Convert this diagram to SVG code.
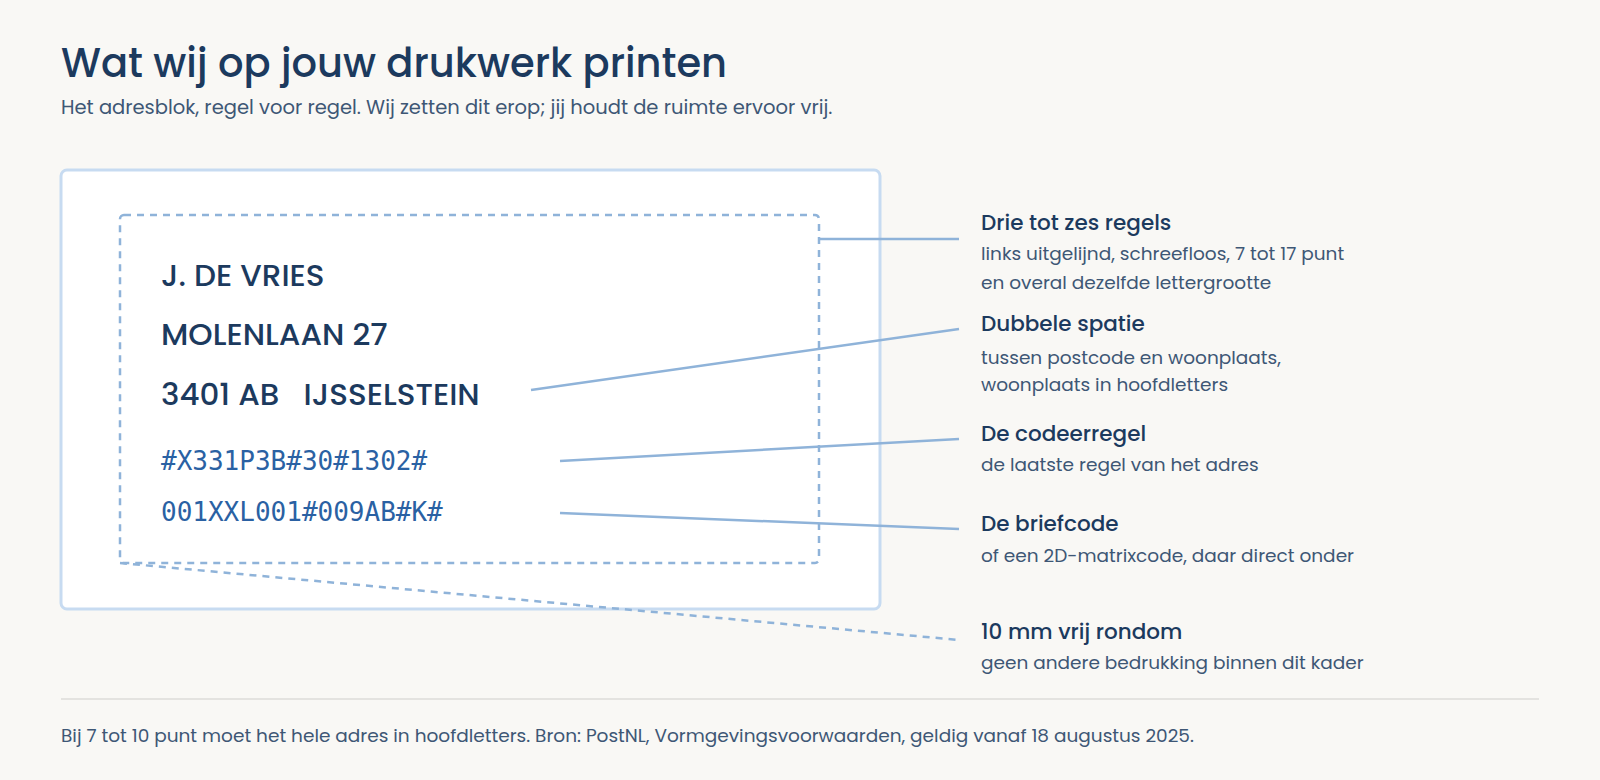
<svg xmlns="http://www.w3.org/2000/svg" width="1600" height="780" viewBox="0 0 1600 780">
<style>
.t{font-family:Poppins,"Noto Sans","Liberation Sans",sans-serif;fill:#1c3a5e}
.h{font-size:21.5px;font-weight:500}
.s{font-size:18.5px;fill:#3e5775}
.a{font-size:31px;font-weight:500}
.m{font-family:"DejaVu Sans Mono","Liberation Mono",monospace;font-size:26px;fill:#2a61a3}
.ln{stroke:#8fb3d9;stroke-width:2.5;fill:none}
</style>
<rect width="1600" height="780" fill="#f9f8f5"/>
<text class="t" x="61" y="77" font-size="40" font-weight="500">Wat wij op jouw drukwerk printen</text>
<text class="t s" x="61" y="114" style="font-size:19.5px">Het adresblok, regel voor regel. Wij zetten dit erop; jij houdt de ruimte ervoor vrij.</text>
<g id="card">
<rect x="61" y="170" width="819" height="439" rx="6" fill="#fff" stroke="#c7dbf1" stroke-width="3"/>
<rect x="120" y="215" width="699" height="348" rx="4" fill="none" stroke="#8fb3d9" stroke-width="2.5" stroke-dasharray="7 6"/>
<text class="t a" x="161" y="286">J. DE VRIES</text>
<text class="t a" x="161" y="345">MOLENLAAN 27</text>
<text class="t a" x="161" y="405" xml:space="preserve">3401 AB   IJSSELSTEIN</text>
<text class="m" x="161" y="470">#X331P3B#30#1302#</text>
<text class="m" x="161" y="521">001XXL001#009AB#K#</text>
</g>
<g id="connectors">
<line class="ln" x1="819" y1="239" x2="959" y2="239"/>
<line class="ln" x1="531" y1="390" x2="959" y2="329"/>
<line class="ln" x1="560" y1="461" x2="959" y2="439"/>
<line class="ln" x1="560" y1="513" x2="959" y2="529"/>
<line class="ln" x1="120" y1="563" x2="959" y2="640" stroke-dasharray="7 6"/>
</g>
<g id="l1"><text class="t h" x="981" y="230">Drie tot zes regels</text><text class="t s" x="981" y="260">links uitgelijnd, schreefloos, 7 tot 17 punt</text><text class="t s" x="981" y="289">en overal dezelfde lettergrootte</text></g>
<g id="l2"><text class="t h" x="981" y="331">Dubbele spatie</text><text class="t s" x="981" y="364">tussen postcode en woonplaats,</text><text class="t s" x="981" y="391">woonplaats in hoofdletters</text></g>
<g id="l3"><text class="t h" x="981" y="441">De codeerregel</text><text class="t s" x="981" y="471">de laatste regel van het adres</text></g>
<g id="l4"><text class="t h" x="981" y="531">De briefcode</text><text class="t s" x="981" y="562">of een 2D-matrixcode, daar direct onder</text></g>
<g id="l5"><text class="t h" x="981" y="639">10 mm vrij rondom</text><text class="t s" x="981" y="669">geen andere bedrukking binnen dit kader</text></g>
<line x1="61" y1="699" x2="1539" y2="699" stroke="#dcdcd8" stroke-width="1.5"/>
<text class="t s" x="61" y="742">Bij 7 tot 10 punt moet het hele adres in hoofdletters. Bron: PostNL, Vormgevingsvoorwaarden, geldig vanaf 18 augustus 2025.</text>
</svg>
